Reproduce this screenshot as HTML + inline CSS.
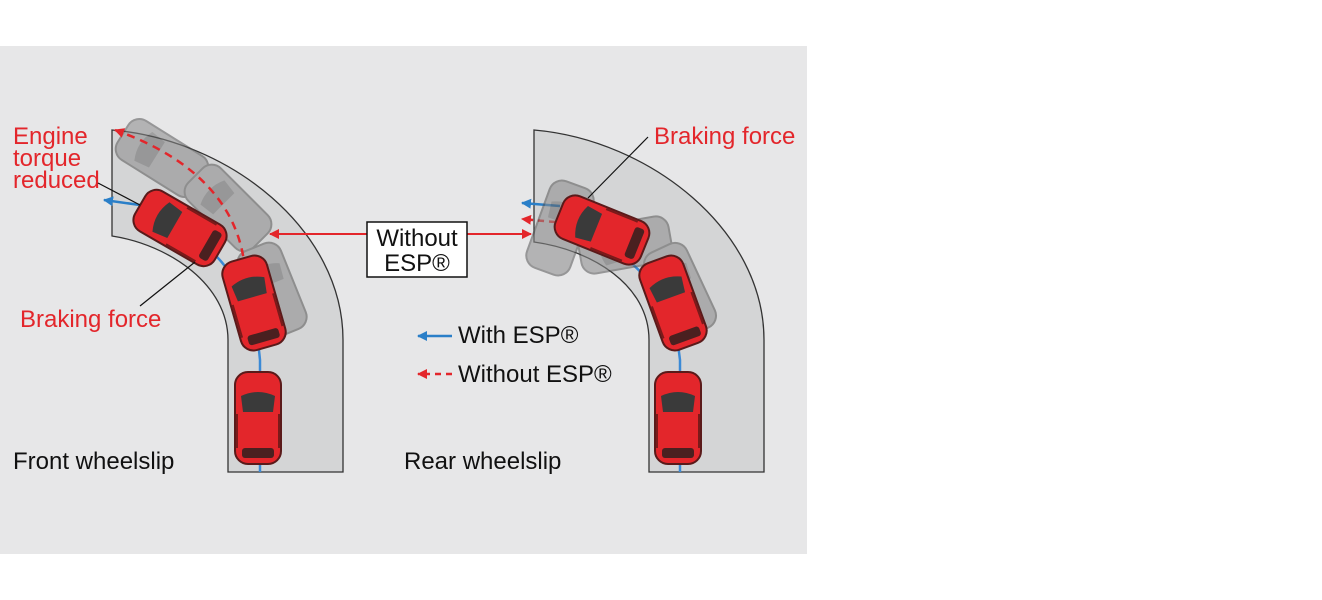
<!DOCTYPE html>
<html><head><meta charset="utf-8">
<style>
html,body{margin:0;padding:0;background:#fff;}
svg{display:block;}
text{font-family:"Liberation Sans Narrow","Liberation Sans",sans-serif;font-size:24px;}
</style></head>
<body>
<svg width="1322" height="600" viewBox="0 0 1322 600" xmlns="http://www.w3.org/2000/svg">
<defs>
<g id="car">
  <rect x="-23" y="-46" width="46" height="92" rx="13" fill="#e3262b" stroke="#5a1a1a" stroke-width="2"/>
  <path d="M-17,-22 Q0,-30 17,-22 L15,-6 L-15,-6 Z" fill="#3a3a3a"/>
  <rect x="-16" y="30" width="32" height="10" rx="3" fill="#4a2020"/>
  <line x1="-21" y1="-4" x2="-21" y2="30" stroke="#7a1a1a" stroke-width="2"/>
  <line x1="21" y1="-4" x2="21" y2="30" stroke="#7a1a1a" stroke-width="2"/>
</g>
<g id="ghost">
  <rect x="-23" y="-46" width="46" height="92" rx="13" fill="#8a8a8a" stroke="#555" stroke-width="2"/>
  <path d="M-17,-22 Q0,-30 17,-22 L15,-6 L-15,-6 Z" fill="#666"/>
</g>
<marker id="ar" markerWidth="10" markerHeight="10" refX="9" refY="5" orient="auto" markerUnits="userSpaceOnUse"><path d="M0,0 L10,5 L0,10 Z" fill="#e3262b"/></marker>
<marker id="ab" markerWidth="10" markerHeight="10" refX="9" refY="5" orient="auto" markerUnits="userSpaceOnUse"><path d="M0,0 L10,5 L0,10 Z" fill="#2a7fc8"/></marker>
</defs>
<rect x="0" y="46" width="807" height="508" fill="#e7e7e8"/>

<path d="M112,130 C230,140 343,230 343,340 L343,472 L228,472 L228,340 C228,285 170,245 112,236 Z" fill="#d4d5d6" stroke="#333" stroke-width="1.3"/>
<path d="M534,130 C650,140 764,230 764,340 L764,472 L649,472 L649,340 C649,285 592,250 534,242 Z" fill="#d4d5d6" stroke="#333" stroke-width="1.3"/>

<path d="M260,472 L260,360 C255,300 230,260 180,225 L140,205" fill="none" stroke="#3b8ad6" stroke-width="2.5"/>
<path d="M140,205 L104,200" fill="none" stroke="#2a7fc8" stroke-width="2.5" marker-end="url(#ab)"/>

<g opacity="0.55">
<use href="#ghost" transform="translate(162,158) rotate(-58)"/>
<use href="#ghost" transform="translate(228,208) rotate(-45)"/>
<use href="#ghost" transform="translate(272,290) rotate(-22)"/>
</g>
<path d="M245,270 C240,210 200,160 115,130" fill="none" stroke="#e3262b" stroke-width="2.5" stroke-dasharray="8,6" marker-end="url(#ar)"/>
<use href="#car" transform="translate(258,418)"/>
<use href="#car" transform="translate(254,303) rotate(-16)"/>
<use href="#car" transform="translate(180,228) rotate(-60)"/>

<path d="M680,472 L680,360 C675,310 650,270 600,240" fill="none" stroke="#3b8ad6" stroke-width="2.5"/>
<path d="M560,206 L522,203" fill="none" stroke="#2a7fc8" stroke-width="2.5" marker-end="url(#ab)"/>
<path d="M555,222 L522,219" fill="none" stroke="#e3262b" stroke-width="2.5" stroke-dasharray="6,5" marker-end="url(#ar)"/>
<g opacity="0.55">
<use href="#ghost" transform="translate(560,228) rotate(20)"/>
<use href="#ghost" transform="translate(625,245) rotate(-100)"/>
<use href="#ghost" transform="translate(680,290) rotate(-25)"/>
</g>
<use href="#car" transform="translate(678,418)"/>
<use href="#car" transform="translate(673,303) rotate(-20)"/>
<use href="#car" transform="translate(602,230) rotate(-68)"/>

<line x1="367" y1="234" x2="270" y2="234" stroke="#e3262b" stroke-width="2" marker-end="url(#ar)"/>
<line x1="467" y1="234" x2="531" y2="234" stroke="#e3262b" stroke-width="2" marker-end="url(#ar)"/>
<rect x="367" y="222" width="100" height="55" fill="#fff" stroke="#111" stroke-width="1.5"/>
<text x="417" y="246" text-anchor="middle" fill="#111">Without</text>
<text x="417" y="271" text-anchor="middle" fill="#111">ESP®</text>

<line x1="452" y1="336" x2="418" y2="336" stroke="#2a7fc8" stroke-width="2.5" marker-end="url(#ab)"/>
<text x="458" y="343" fill="#111">With ESP®</text>
<line x1="452" y1="374" x2="418" y2="374" stroke="#e3262b" stroke-width="2.5" stroke-dasharray="6,5" marker-end="url(#ar)"/>
<text x="458" y="382" fill="#111">Without ESP®</text>

<text x="13" y="144" fill="#e3262b">Engine</text>
<text x="13" y="166" fill="#e3262b">torque</text>
<text x="13" y="188" fill="#e3262b">reduced</text>
<line x1="98" y1="183" x2="140" y2="205" stroke="#111" stroke-width="1.2"/>
<text x="20" y="327" fill="#e3262b">Braking force</text>
<line x1="140" y1="306" x2="195" y2="262" stroke="#111" stroke-width="1.2"/>
<text x="654" y="144" fill="#e3262b">Braking force</text>
<line x1="648" y1="137" x2="588" y2="198" stroke="#111" stroke-width="1.2"/>
<text x="13" y="469" fill="#111">Front wheelslip</text>
<text x="404" y="469" fill="#111">Rear wheelslip</text>
</svg>
</body></html>
